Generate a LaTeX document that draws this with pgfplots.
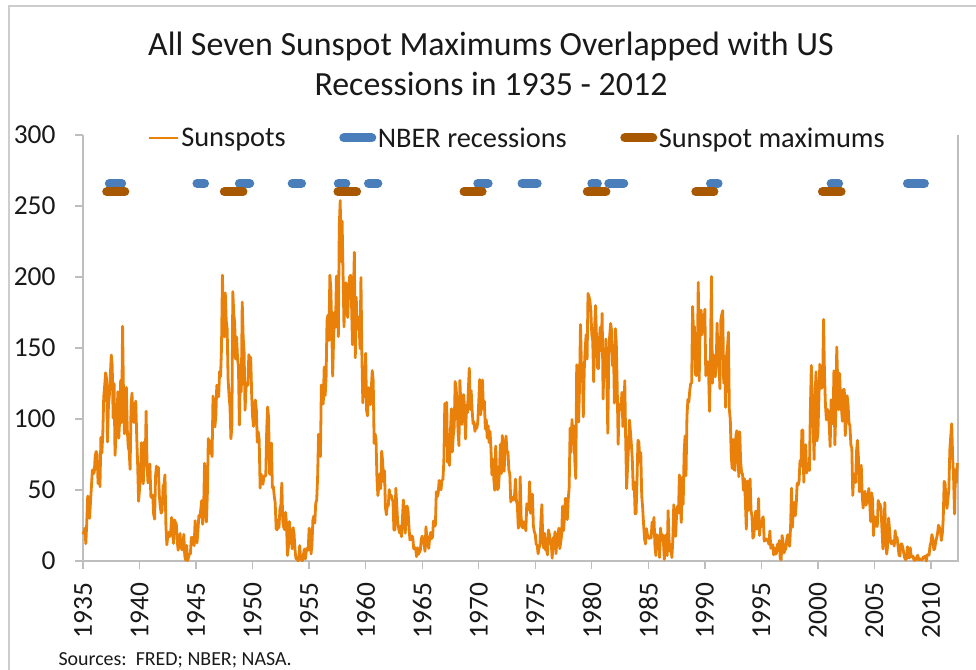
\documentclass[border=0pt]{standalone}
\usepackage{fontspec}
\setmainfont{Carlito}
\usepackage{pgfplots}
\usepackage{pgfplotstable}
\pgfplotsset{compat=1.18}
\definecolor{spot}{RGB}{233,128,10}
\definecolor{nber}{RGB}{74,126,187}
\definecolor{smax}{RGB}{168,88,0}
\definecolor{axisgray}{RGB}{190,190,190}
\definecolor{framegray}{RGB}{205,205,205}
\pgfplotsset{
  legline/.style={legend image code/.code={\draw[##1] (0bp,0bp) -- (29bp,0bp);}},
  legbar/.style={legend image code/.code={\draw[##1] (4.5bp,0bp) -- (32.5bp,0bp);}},
}

% monthly sunspot numbers, Jan 1935 - May 2012, one year per line
\pgfplotstableread[row sep=\\]{
y\\
18.9\\ 20.5\\ 23.1\\ 12.2\\ 27.3\\ 45.7\\ 33.9\\ 30.1\\ 42.1\\ 53.2\\ 64.2\\ 61.5\\
62.8\\ 74.3\\ 77.1\\ 74.9\\ 54.6\\ 70.0\\ 52.3\\ 87.0\\ 76.0\\ 89.0\\ 115.4\\ 123.4\\
132.5\\ 128.5\\ 83.9\\ 109.3\\ 116.7\\ 130.3\\ 145.1\\ 137.7\\ 100.7\\ 124.9\\ 74.4\\ 88.8\\
98.4\\ 119.2\\ 86.5\\ 101.0\\ 127.4\\ 97.5\\ 165.3\\ 115.7\\ 89.6\\ 99.1\\ 122.2\\ 92.7\\
80.3\\ 77.4\\ 64.6\\ 109.1\\ 118.3\\ 101.0\\ 97.6\\ 105.8\\ 112.6\\ 88.1\\ 68.1\\ 42.1\\
50.5\\ 59.4\\ 83.3\\ 60.7\\ 54.4\\ 83.9\\ 67.5\\ 105.5\\ 66.5\\ 55.0\\ 58.4\\ 68.3\\
45.6\\ 44.5\\ 46.4\\ 32.8\\ 29.5\\ 59.8\\ 66.9\\ 60.0\\ 65.9\\ 46.3\\ 38.4\\ 33.7\\
35.6\\ 52.8\\ 54.2\\ 60.7\\ 25.0\\ 11.4\\ 17.7\\ 20.2\\ 17.2\\ 19.2\\ 30.7\\ 22.5\\
12.4\\ 28.9\\ 27.4\\ 26.1\\ 14.1\\ 7.6\\ 13.2\\ 19.4\\ 10.0\\ 7.8\\ 10.2\\ 18.8\\
3.7\\ 0.5\\ 11.0\\ 0.3\\ 2.5\\ 5.0\\ 5.0\\ 16.7\\ 14.3\\ 16.9\\ 10.8\\ 28.4\\
18.5\\ 12.7\\ 21.5\\ 32.0\\ 30.6\\ 36.2\\ 42.6\\ 25.9\\ 34.9\\ 68.8\\ 46.0\\ 27.4\\
47.6\\ 86.2\\ 76.6\\ 75.7\\ 84.9\\ 73.5\\ 116.2\\ 107.2\\ 94.4\\ 102.3\\ 123.8\\ 121.7\\
115.7\\ 133.4\\ 129.8\\ 149.8\\ 201.3\\ 163.9\\ 157.9\\ 188.8\\ 169.4\\ 163.6\\ 128.0\\ 116.5\\
108.5\\ 86.1\\ 94.8\\ 189.7\\ 174.0\\ 167.8\\ 142.2\\ 157.9\\ 143.3\\ 136.3\\ 95.8\\ 138.0\\
119.1\\ 182.3\\ 157.5\\ 147.0\\ 106.2\\ 121.7\\ 125.8\\ 123.8\\ 145.3\\ 131.6\\ 143.5\\ 117.6\\
101.6\\ 94.8\\ 109.7\\ 113.4\\ 106.2\\ 83.6\\ 91.0\\ 85.2\\ 51.3\\ 61.4\\ 54.8\\ 54.1\\
59.9\\ 59.9\\ 59.9\\ 92.9\\ 108.5\\ 100.6\\ 61.5\\ 61.0\\ 83.1\\ 51.6\\ 52.4\\ 45.8\\
40.7\\ 22.7\\ 22.0\\ 29.1\\ 23.4\\ 36.4\\ 39.3\\ 54.9\\ 28.2\\ 23.8\\ 22.1\\ 34.3\\
26.5\\ 3.9\\ 10.0\\ 27.8\\ 12.5\\ 21.8\\ 8.6\\ 23.5\\ 19.3\\ 8.2\\ 1.6\\ 2.5\\
0.2\\ 0.5\\ 10.9\\ 1.8\\ 0.8\\ 0.2\\ 4.8\\ 8.4\\ 1.5\\ 7.0\\ 9.2\\ 7.6\\
23.1\\ 20.8\\ 4.9\\ 11.3\\ 28.9\\ 31.7\\ 26.7\\ 40.7\\ 42.7\\ 58.5\\ 89.2\\ 76.9\\
73.6\\ 124.0\\ 118.4\\ 110.7\\ 136.6\\ 116.6\\ 129.1\\ 169.6\\ 173.2\\ 155.3\\ 201.3\\ 192.1\\
165.0\\ 130.2\\ 157.4\\ 175.2\\ 164.6\\ 200.7\\ 187.2\\ 158.0\\ 235.8\\ 253.8\\ 210.9\\ 239.4\\
202.5\\ 164.9\\ 190.7\\ 196.0\\ 175.3\\ 171.5\\ 191.4\\ 200.2\\ 201.2\\ 181.5\\ 152.3\\ 187.6\\
217.4\\ 143.1\\ 185.7\\ 163.3\\ 172.0\\ 168.7\\ 149.6\\ 199.6\\ 145.2\\ 111.4\\ 124.0\\ 125.0\\
146.3\\ 106.0\\ 102.2\\ 122.0\\ 119.6\\ 110.2\\ 121.7\\ 134.1\\ 127.2\\ 82.8\\ 89.6\\ 85.6\\
57.9\\ 46.1\\ 53.0\\ 61.4\\ 51.0\\ 77.4\\ 70.2\\ 55.9\\ 63.6\\ 37.7\\ 32.6\\ 39.9\\
38.7\\ 50.3\\ 45.6\\ 46.4\\ 43.7\\ 42.0\\ 21.8\\ 21.8\\ 51.3\\ 39.5\\ 26.9\\ 23.2\\
19.8\\ 24.4\\ 17.1\\ 29.3\\ 43.0\\ 35.9\\ 19.6\\ 33.2\\ 38.8\\ 35.3\\ 23.4\\ 14.9\\
15.3\\ 17.7\\ 16.5\\ 8.6\\ 9.5\\ 9.1\\ 3.1\\ 9.3\\ 4.7\\ 6.1\\ 7.4\\ 15.1\\
17.5\\ 14.2\\ 11.7\\ 6.8\\ 24.1\\ 15.9\\ 11.9\\ 8.9\\ 16.8\\ 20.1\\ 15.8\\ 17.0\\
28.2\\ 24.4\\ 25.3\\ 48.7\\ 45.3\\ 47.7\\ 56.7\\ 51.2\\ 50.2\\ 57.2\\ 57.2\\ 70.4\\
110.9\\ 93.6\\ 111.8\\ 69.5\\ 86.5\\ 67.3\\ 91.5\\ 107.2\\ 76.8\\ 88.2\\ 94.3\\ 126.4\\
121.8\\ 111.9\\ 92.2\\ 81.2\\ 127.2\\ 110.3\\ 96.1\\ 109.3\\ 117.2\\ 107.7\\ 86.0\\ 109.8\\
104.4\\ 120.5\\ 135.8\\ 106.8\\ 120.0\\ 106.0\\ 96.8\\ 98.0\\ 91.3\\ 95.7\\ 93.5\\ 97.9\\
111.5\\ 127.8\\ 102.9\\ 109.5\\ 127.5\\ 106.8\\ 112.5\\ 93.0\\ 99.5\\ 86.6\\ 95.2\\ 83.5\\
91.3\\ 79.0\\ 60.7\\ 71.8\\ 57.5\\ 49.8\\ 81.0\\ 61.4\\ 50.2\\ 51.7\\ 63.2\\ 82.2\\
61.5\\ 88.4\\ 80.1\\ 63.2\\ 80.5\\ 88.0\\ 76.5\\ 76.8\\ 64.0\\ 61.3\\ 41.6\\ 45.3\\
43.4\\ 42.9\\ 46.0\\ 57.7\\ 42.4\\ 39.5\\ 23.1\\ 25.6\\ 59.3\\ 30.7\\ 23.9\\ 23.3\\
27.6\\ 26.0\\ 21.3\\ 40.3\\ 39.5\\ 36.0\\ 55.8\\ 33.6\\ 40.2\\ 47.1\\ 25.0\\ 20.5\\
18.9\\ 11.5\\ 11.5\\ 5.1\\ 9.0\\ 11.4\\ 28.2\\ 39.7\\ 13.9\\ 9.1\\ 19.4\\ 7.8\\
8.1\\ 4.3\\ 21.9\\ 18.8\\ 12.4\\ 12.2\\ 1.9\\ 16.4\\ 13.5\\ 20.6\\ 5.2\\ 15.3\\
16.4\\ 23.1\\ 8.7\\ 12.9\\ 18.6\\ 38.5\\ 21.4\\ 30.1\\ 44.0\\ 43.8\\ 29.1\\ 43.2\\
51.9\\ 93.6\\ 76.5\\ 99.7\\ 82.7\\ 95.1\\ 70.4\\ 58.1\\ 138.2\\ 125.1\\ 97.9\\ 122.7\\
166.6\\ 137.5\\ 138.0\\ 101.5\\ 134.4\\ 149.5\\ 159.4\\ 142.2\\ 188.4\\ 186.2\\ 183.3\\ 176.3\\
159.6\\ 155.0\\ 126.2\\ 164.1\\ 179.9\\ 157.3\\ 136.3\\ 135.4\\ 155.0\\ 164.7\\ 147.9\\ 174.4\\
114.0\\ 141.3\\ 135.5\\ 156.4\\ 127.5\\ 90.0\\ 143.8\\ 158.7\\ 167.3\\ 162.4\\ 137.5\\ 150.1\\
111.2\\ 163.6\\ 153.8\\ 122.0\\ 82.2\\ 110.4\\ 106.1\\ 107.6\\ 118.8\\ 94.7\\ 98.1\\ 127.0\\
84.3\\ 51.0\\ 66.5\\ 80.7\\ 99.2\\ 91.1\\ 82.2\\ 71.8\\ 50.3\\ 55.8\\ 33.3\\ 33.4\\
57.0\\ 85.1\\ 83.5\\ 69.4\\ 76.4\\ 46.1\\ 37.4\\ 25.5\\ 15.7\\ 12.0\\ 22.8\\ 18.7\\
16.5\\ 15.9\\ 17.2\\ 16.2\\ 27.5\\ 24.2\\ 30.7\\ 11.1\\ 3.9\\ 18.6\\ 16.2\\ 17.3\\
2.5\\ 23.2\\ 15.1\\ 18.5\\ 13.7\\ 1.1\\ 18.1\\ 7.4\\ 3.8\\ 35.4\\ 15.2\\ 6.8\\
10.4\\ 2.4\\ 14.7\\ 39.6\\ 33.0\\ 17.4\\ 33.0\\ 38.7\\ 33.9\\ 60.6\\ 39.9\\ 27.1\\
59.0\\ 40.0\\ 76.2\\ 88.0\\ 60.1\\ 101.8\\ 113.8\\ 111.8\\ 120.1\\ 125.1\\ 125.1\\ 179.2\\
161.3\\ 165.1\\ 131.4\\ 130.6\\ 138.5\\ 196.2\\ 126.9\\ 168.9\\ 176.7\\ 159.4\\ 173.0\\ 165.5\\
177.3\\ 130.5\\ 140.3\\ 140.3\\ 132.2\\ 105.4\\ 149.4\\ 200.3\\ 125.2\\ 145.5\\ 131.4\\ 129.7\\
136.9\\ 167.5\\ 141.9\\ 140.0\\ 121.3\\ 169.7\\ 173.7\\ 176.3\\ 125.3\\ 144.1\\ 108.2\\ 144.4\\
150.0\\ 161.1\\ 106.7\\ 99.8\\ 73.8\\ 65.2\\ 85.7\\ 64.5\\ 63.9\\ 88.7\\ 91.8\\ 82.6\\
59.3\\ 91.0\\ 69.8\\ 62.2\\ 61.3\\ 49.8\\ 57.9\\ 42.3\\ 22.4\\ 56.4\\ 35.6\\ 48.9\\
57.8\\ 35.5\\ 31.7\\ 16.1\\ 17.8\\ 28.0\\ 35.1\\ 22.5\\ 25.7\\ 44.0\\ 18.0\\ 26.2\\
24.2\\ 29.9\\ 31.1\\ 14.0\\ 14.5\\ 15.6\\ 14.5\\ 14.3\\ 11.8\\ 21.1\\ 9.0\\ 10.0\\
11.5\\ 4.4\\ 9.2\\ 4.8\\ 5.5\\ 11.8\\ 8.2\\ 14.4\\ 1.6\\ 0.9\\ 17.9\\ 13.3\\
5.7\\ 7.6\\ 8.7\\ 15.5\\ 18.5\\ 12.7\\ 10.4\\ 24.4\\ 51.3\\ 23.8\\ 39.0\\ 41.2\\
31.9\\ 40.3\\ 54.8\\ 53.4\\ 56.3\\ 70.7\\ 66.6\\ 92.2\\ 92.2\\ 55.5\\ 74.0\\ 81.9\\
62.0\\ 66.3\\ 68.8\\ 63.7\\ 106.4\\ 137.7\\ 113.5\\ 93.7\\ 71.5\\ 116.7\\ 133.2\\ 84.6\\
90.1\\ 112.9\\ 138.5\\ 125.5\\ 121.6\\ 124.9\\ 170.1\\ 130.5\\ 109.7\\ 99.4\\ 106.8\\ 104.4\\
95.6\\ 80.6\\ 113.5\\ 107.7\\ 96.6\\ 134.0\\ 81.8\\ 106.4\\ 150.7\\ 125.5\\ 106.5\\ 132.2\\
114.1\\ 107.4\\ 98.4\\ 120.7\\ 120.8\\ 88.3\\ 99.6\\ 116.4\\ 109.6\\ 97.5\\ 95.0\\ 81.6\\
79.5\\ 46.2\\ 61.5\\ 60.0\\ 55.2\\ 77.4\\ 85.0\\ 72.7\\ 48.8\\ 65.5\\ 67.3\\ 46.5\\
37.3\\ 45.8\\ 49.1\\ 39.3\\ 41.5\\ 43.2\\ 51.1\\ 40.9\\ 27.7\\ 48.0\\ 43.5\\ 17.9\\
31.3\\ 29.2\\ 24.5\\ 24.4\\ 42.6\\ 39.6\\ 39.9\\ 36.4\\ 22.1\\ 8.5\\ 18.0\\ 41.2\\
15.3\\ 4.9\\ 10.6\\ 30.2\\ 22.3\\ 13.9\\ 12.2\\ 12.9\\ 14.4\\ 10.5\\ 21.4\\ 13.6\\
16.8\\ 10.7\\ 4.5\\ 3.4\\ 11.7\\ 12.1\\ 9.7\\ 6.0\\ 2.4\\ 0.9\\ 1.7\\ 10.1\\
3.3\\ 2.1\\ 9.3\\ 2.9\\ 3.2\\ 3.4\\ 0.5\\ 0.5\\ 1.1\\ 2.9\\ 4.1\\ 0.8\\
1.5\\ 1.4\\ 0.7\\ 1.2\\ 2.9\\ 2.6\\ 3.5\\ 0.0\\ 4.2\\ 4.6\\ 4.2\\ 10.6\\
13.1\\ 18.6\\ 15.4\\ 7.9\\ 8.8\\ 13.5\\ 16.1\\ 19.6\\ 25.2\\ 23.5\\ 21.6\\ 14.5\\
19.0\\ 29.4\\ 56.2\\ 54.4\\ 41.6\\ 37.0\\ 43.9\\ 50.6\\ 78.0\\ 88.0\\ 96.7\\ 73.0\\
58.3\\ 33.1\\ 64.2\\ 55.2\\ 69.0\\
}\sunspots

\begin{document}
\begin{tikzpicture}[x=1bp,y=1bp]
\useasboundingbox (0bp,0bp) rectangle (976bp,-670bp);
\clip (0bp,0bp) rectangle (976bp,-670bp);
\draw[framegray, line width=1.3bp] (9bp,-700bp) -- (9bp,-6bp) -- (1000bp,-6bp);
\node[align=center, text=black!90, font=\fontsize{34}{40}\selectfont] at (491bp,-64bp)
  {All Seven Sunspot Maximums Overlapped with US\\Recessions in 1935 - 2012};
\node[anchor=base west, text=black!90, font=\fontsize{20}{22}\selectfont] at (55bp,-665bp)
  {Sources:\ \ FRED; NBER; NASA.};
\begin{axis}[
  at={(83bp,-561bp)}, anchor=south west,
  scale only axis, width=875bp, height=426bp,
  xmin=1935, xmax=2012.39, ymin=0, ymax=300,
  clip=false,
  axis line style={draw=none},
  xtick={1935,1940,...,2010},
  ytick={0,50,...,300},
  xtick pos=left, ytick pos=left,
  tick align=outside,
  major tick length=8bp,
  tick style={draw=axisgray, line width=1.3bp},
  /pgf/number format/assume math mode=true,
  /pgf/number format/1000 sep={},
  tick label style={text=black!90, font=\fontsize{27.5}{28}\selectfont},
  xticklabel style={rotate=90, anchor=east, xshift=-10bp},
  yticklabel style={anchor=east, xshift=-16bp},
  legend columns=3,
  legend style={draw=none, fill=none, inner sep=0pt, outer sep=0pt,
    at={(rel axis cs:0.0743,0.993)}, anchor=west,
    font=\fontsize{28.5}{29}\selectfont, text=black!90,
    nodes={inner sep=1.5bp},
    /tikz/every even column/.append style={column sep=52bp}},
]
\draw[axisgray, line width=1.3bp] (rel axis cs:0,1) -- (rel axis cs:0,0) -- (rel axis cs:1,0) -- (rel axis cs:1,1);

\addplot[spot, line width=2.8bp, line join=round, legline]
  table[x expr={1935+\coordindex/12}, y=y] {\sunspots};
\addlegendentry{Sunspots}

\addplot[nber, line width=9bp, line cap=round, unbounded coords=jump, legbar]
  coordinates {
  (1937.33,266) (1938.42,266) (1939,nan)
  (1945.08,266) (1945.75,266) (1946,nan)
  (1948.83,266) (1949.75,266) (1950,nan)
  (1953.50,266) (1954.33,266) (1955,nan)
  (1957.58,266) (1958.25,266) (1959,nan)
  (1960.25,266) (1961.08,266) (1962,nan)
  (1969.92,266) (1970.83,266) (1971,nan)
  (1973.83,266) (1975.17,266) (1976,nan)
  (1980.00,266) (1980.50,266) (1981,nan)
  (1981.50,266) (1982.83,266) (1983,nan)
  (1990.50,266) (1991.17,266) (1992,nan)
  (2001.17,266) (2001.83,266) (2002,nan)
  (2007.92,266) (2009.42,266)
  };
\addlegendentry{NBER recessions}

\addplot[smax, line width=9bp, line cap=round, unbounded coords=jump, legbar]
  coordinates {
  (1937.10,260) (1938.70,260) (1939,nan)
  (1947.50,260) (1949.15,260) (1950,nan)
  (1957.55,260) (1959.20,260) (1960,nan)
  (1968.70,260) (1970.30,260) (1971,nan)
  (1979.60,260) (1981.25,260) (1982,nan)
  (1989.20,260) (1990.80,260) (1991,nan)
  (2000.40,260) (2002.05,260)
  };
\addlegendentry{Sunspot maximums}
\end{axis}
\end{tikzpicture}
\end{document}
